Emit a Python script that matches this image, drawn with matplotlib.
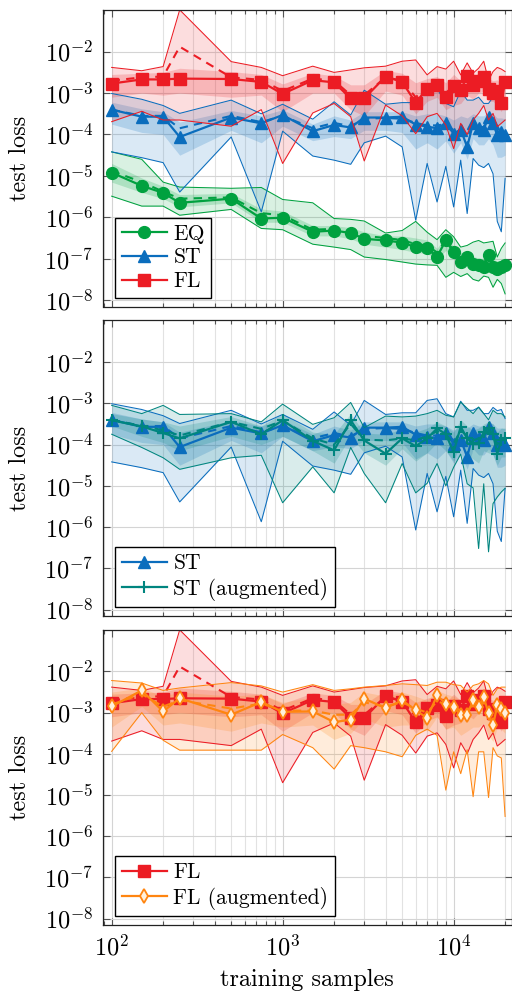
import numpy as np
import matplotlib
matplotlib.use('Agg')
import matplotlib.pyplot as plt
from matplotlib.ticker import FixedLocator, FixedFormatter, NullLocator, LogLocator, NullFormatter

plt.rcParams['font.family'] = 'serif'
plt.rcParams['font.serif'] = ['cmr10']
plt.rcParams['mathtext.fontset'] = 'cm'
plt.rcParams['axes.unicode_minus'] = False

# training samples
x = [100, 150, 200, 250, 500, 750, 1000, 1500, 2000, 2500, 3000, 4000, 5000, 6000,
     7000, 8000, 9000, 10000, 11000, 12000, 13000, 14000, 15000, 16000, 17000, 18000,
     19000, 20000]

# all loss values given as log10(test loss)
# EQ
eq_med = [-4.92, -5.24, -5.41, -5.65, -5.55, -6.03, -6.01, -6.35, -6.32, -6.38, -6.52, -6.56, -6.61, -6.72,
          -6.74, -6.95, -6.56, -6.85, -7.07, -6.95, -7.12, -7.16, -7.19, -6.91, -7.21, -7.25, -7.21, -7.16]
eq_mean = [-4.88, -5.15, -5.38, -5.55, -5.52, -5.90, -5.95, -6.30, -6.28, -6.33, -6.45, -6.50, -6.55, -6.65,
           -6.68, -6.85, -6.55, -6.80, -6.98, -6.92, -7.05, -7.10, -7.12, -6.90, -7.15, -7.15, -7.18, -7.12]
eq_max = [-4.42, -4.60, -5.15, -5.27, -5.30, -5.28, -5.57, -5.65, -6.03, -6.05, -6.09, -6.38, -6.32, -6.10,
          -6.36, -6.54, -6.30, -6.47, -6.72, -6.68, -6.60, -6.56, -6.62, -6.60, -6.58, -6.96, -6.75, -6.62]
eq_min = [-5.49, -5.73, -5.73, -5.95, -5.81, -6.27, -6.30, -6.65, -6.72, -6.78, -6.96, -7.02, -7.08, -7.13,
          -7.15, -7.16, -7.45, -7.33, -7.43, -7.36, -7.50, -7.54, -7.42, -7.45, -7.69, -7.50, -7.60, -7.85]
eq_q3 = [-4.70, -5.05, -5.25, -5.45, -5.42, -5.80, -5.85, -6.20, -6.20, -6.25, -6.35, -6.45, -6.45, -6.50,
         -6.55, -6.75, -6.45, -6.70, -6.85, -6.82, -6.95, -6.98, -7.00, -6.80, -7.02, -7.05, -7.05, -7.00]
eq_q1 = [-5.15, -5.40, -5.55, -5.75, -5.65, -6.12, -6.12, -6.45, -6.45, -6.52, -6.65, -6.72, -6.78, -6.85,
         -6.88, -7.02, -6.80, -7.00, -7.18, -7.10, -7.25, -7.30, -7.30, -7.10, -7.35, -7.38, -7.35, -7.35]

# ST
st_med = [-3.40, -3.57, -3.57, -4.06, -3.59, -3.73, -3.53, -3.92, -3.77, -3.83, -3.59, -3.59, -3.57, -3.76,
          -3.81, -3.85, -3.73, -3.98, -3.88, -4.30, -3.73, -3.85, -3.88, -3.57, -3.73, -4.02, -3.95, -4.02]
st_mean = [-3.40, -3.55, -3.55, -3.85, -3.55, -3.70, -3.55, -3.85, -3.72, -3.80, -3.62, -3.60, -3.62, -3.72,
           -3.78, -3.78, -3.75, -3.90, -3.85, -4.05, -3.78, -3.82, -3.82, -3.68, -3.75, -3.92, -3.92, -3.95]
st_max = [-3.01, -3.15, -3.30, -3.49, -3.17, -3.50, -3.27, -3.63, -3.21, -3.53, -2.93, -3.27, -3.23, -3.23,
          -2.93, -2.89, -3.25, -3.33, -2.95, -3.17, -3.17, -3.10, -3.25, -3.25, -3.10, -3.18, -3.15, -3.37]
st_min = [-4.42, -4.56, -4.68, -5.39, -4.06, -5.87, -3.92, -4.52, -4.62, -4.72, -4.20, -4.04, -4.30, -6.07,
          -4.70, -5.63, -4.77, -5.75, -4.62, -5.91, -4.58, -4.74, -4.80, -4.70, -4.95, -6.10, -6.35, -5.06]
st_q3 = [-3.22, -3.38, -3.45, -3.70, -3.42, -3.55, -3.40, -3.75, -3.55, -3.65, -3.45, -3.45, -3.45, -3.55,
         -3.50, -3.50, -3.55, -3.65, -3.55, -3.60, -3.50, -3.55, -3.55, -3.45, -3.50, -3.60, -3.60, -3.62]
st_q1 = [-3.75, -3.95, -4.00, -4.50, -3.90, -4.20, -3.80, -4.15, -4.05, -4.10, -3.90, -3.90, -3.95, -4.35,
         -4.20, -4.35, -4.15, -4.45, -4.20, -4.60, -4.10, -4.25, -4.25, -4.10, -4.25, -4.55, -4.55, -4.50]

# FL
fl_med = [-2.77, -2.67, -2.67, -2.65, -2.66, -2.73, -3.02, -2.69, -2.74, -3.13, -3.13, -2.60, -2.73, -3.23,
          -2.89, -2.81, -3.09, -2.83, -2.93, -2.59, -2.80, -2.70, -2.60, -2.90, -3.00, -2.96, -3.23, -2.73]
fl_mean = [-2.70, -2.62, -2.60, -1.88, -2.62, -2.68, -2.95, -2.65, -2.70, -3.05, -3.05, -2.62, -2.70, -3.10,
           -2.85, -2.78, -3.00, -2.82, -2.88, -2.65, -2.78, -2.70, -2.65, -2.85, -2.90, -2.92, -3.10, -2.75]
fl_max = [-2.38, -2.46, -2.36, -0.99, -2.24, -2.38, -2.58, -2.35, -2.50, -2.44, -2.39, -2.35, -2.23, -2.20,
          -2.56, -2.36, -2.42, -2.23, -2.56, -2.27, -2.52, -2.40, -2.23, -2.70, -2.48, -2.38, -2.42, -2.48]
fl_min = [-3.69, -3.44, -3.65, -3.65, -3.80, -3.40, -4.70, -3.48, -3.25, -3.57, -4.64, -3.29, -3.55, -3.98,
          -3.57, -3.49, -3.77, -4.34, -3.73, -4.00, -3.65, -3.49, -3.30, -3.65, -3.49, -3.81, -3.73, -3.65]
fl_q3 = [-2.55, -2.52, -2.50, -2.40, -2.48, -2.55, -2.78, -2.52, -2.58, -2.80, -2.80, -2.45, -2.52, -2.75,
         -2.65, -2.60, -2.75, -2.55, -2.70, -2.45, -2.60, -2.52, -2.45, -2.65, -2.70, -2.68, -2.80, -2.58]
fl_q1 = [-3.10, -3.00, -3.05, -3.00, -3.10, -3.05, -3.45, -3.00, -3.00, -3.40, -3.55, -2.95, -3.05, -3.50,
         -3.20, -3.10, -3.40, -3.30, -3.25, -3.05, -3.15, -3.00, -2.95, -3.20, -3.20, -3.30, -3.45, -3.15]

# ST (augmented)
sta_med = [-3.41, -3.56, -3.72, -3.85, -3.45, -3.75, -3.41, -3.91, -4.14, -3.41, -3.90, -4.22, -3.85, -4.04,
           -3.85, -3.61, -3.75, -4.18, -3.57, -3.85, -3.98, -3.95, -3.70, -3.61, -3.75, -4.22, -3.90, -3.85]
sta_mean = [-3.40, -3.55, -3.65, -3.78, -3.45, -3.62, -3.42, -3.85, -4.00, -3.50, -3.88, -3.90, -3.85, -3.90,
            -3.80, -3.68, -3.75, -3.98, -3.65, -3.80, -3.90, -3.85, -3.75, -3.70, -3.75, -4.00, -3.85, -3.85]
sta_max = [-3.05, -3.25, -3.05, -3.27, -3.25, -3.45, -3.02, -3.51, -3.35, -2.98, -3.59, -3.31, -3.33, -3.31,
           -3.25, -3.17, -3.29, -3.33, -2.97, -3.12, -3.25, -3.09, -3.25, -3.40, -3.17, -3.25, -3.25, -3.33]
sta_min = [-3.75, -4.07, -4.32, -4.60, -4.32, -4.26, -5.41, -4.54, -5.17, -4.07, -4.70, -5.41, -4.46, -5.17,
           -4.94, -4.46, -5.00, -4.55, -4.23, -4.95, -5.05, -6.52, -4.95, -6.60, -5.43, -5.27, -5.15, -5.06]
sta_q3 = [-3.25, -3.38, -3.45, -3.55, -3.32, -3.55, -3.25, -3.70, -3.75, -3.25, -3.72, -3.75, -3.62, -3.70,
          -3.60, -3.45, -3.55, -3.70, -3.40, -3.55, -3.65, -3.60, -3.50, -3.45, -3.50, -3.70, -3.60, -3.60]
sta_q1 = [-3.55, -3.80, -3.95, -4.15, -3.80, -4.00, -3.80, -4.15, -4.45, -3.80, -4.20, -4.50, -4.10, -4.40,
          -4.20, -3.95, -4.15, -4.40, -3.95, -4.25, -4.35, -4.45, -4.15, -4.20, -4.25, -4.50, -4.30, -4.30]

# FL (augmented)
fla_med = [-2.85, -2.46, -2.97, -2.65, -3.05, -2.74, -2.98, -2.97, -3.23, -3.17, -2.66, -2.89, -2.70, -2.94,
           -3.13, -2.58, -2.78, -2.86, -3.05, -3.05, -2.70, -2.86, -2.62, -3.02, -3.31, -2.82, -2.90, -3.00]
fla_mean = [-2.80, -2.55, -2.85, -2.70, -2.90, -2.78, -2.95, -2.95, -3.05, -3.05, -2.75, -2.85, -2.75, -2.90,
            -3.00, -2.72, -2.80, -2.85, -2.95, -2.95, -2.80, -2.85, -2.75, -2.95, -3.10, -2.85, -2.90, -2.95]
fla_max = [-2.22, -2.28, -2.46, -2.40, -2.27, -2.35, -2.50, -2.32, -2.46, -2.42, -2.38, -2.34, -2.30, -2.32,
           -2.34, -2.26, -2.26, -2.32, -2.34, -2.50, -2.34, -2.30, -2.22, -2.30, -2.58, -2.42, -2.38, -2.38]
fla_min = [-3.94, -3.00, -3.67, -3.91, -3.91, -3.91, -3.53, -3.85, -4.37, -3.80, -3.85, -3.95, -4.07, -3.55,
           -3.40, -3.55, -4.88, -3.95, -4.48, -3.90, -5.04, -3.95, -3.95, -5.06, -3.85, -4.05, -4.10, -5.52]
fla_q3 = [-2.50, -2.40, -2.60, -2.50, -2.60, -2.55, -2.75, -2.62, -2.80, -2.75, -2.50, -2.60, -2.50, -2.60,
          -2.70, -2.45, -2.55, -2.60, -2.70, -2.70, -2.50, -2.60, -2.45, -2.70, -2.90, -2.60, -2.65, -2.65]
fla_q1 = [-3.35, -2.85, -3.30, -3.25, -3.45, -3.25, -3.35, -3.30, -3.65, -3.50, -3.15, -3.35, -3.30, -3.30,
          -3.45, -3.10, -3.40, -3.35, -3.55, -3.45, -3.35, -3.35, -3.25, -3.55, -3.70, -3.35, -3.40, -3.50]

GREEN = '#00a13f'
BLUE = '#0a6dbd'
RED = '#ec1c24'
TEAL = '#00857f'
ORANGE = '#ff8510'


def draw(ax, med, mean, lo, hi, q1, q3, color, marker, label, ms, mfc=None, mew=1.0):
    p = lambda a: 10.0 ** np.array(a)
    ax.fill_between(x, p(lo), p(hi), color=color, alpha=0.15, lw=0)
    ax.fill_between(x, p(q1), p(q3), color=color, alpha=0.2, lw=0)
    ax.plot(x, p(lo), color=color, lw=0.75)
    ax.plot(x, p(hi), color=color, lw=0.75)
    ax.plot(x, p(mean), color=color, lw=1.5, ls=(0, (4, 3)))
    ax.plot(x, p(med), color=color, lw=1.6, marker=marker, ms=ms,
            mfc=mfc if mfc else color, mec=color, mew=mew, label=label)


fig = plt.figure(figsize=(5.12, 9.92), dpi=100)
left = 103 / 512
width = (511.5 - 103) / 512
panels = [(10, 306.5), (320.5, 616), (630, 925)]
axes = []
for top, bot in panels:
    axes.append(fig.add_axes([left, 1 - bot / 992, width, (bot - top) / 992]))

draw(axes[0], eq_med, eq_mean, eq_min, eq_max, eq_q1, eq_q3, GREEN, 'o', 'EQ', 8.5)
draw(axes[0], st_med, st_mean, st_min, st_max, st_q1, st_q3, BLUE, '^', 'ST', 8.5)
draw(axes[0], fl_med, fl_mean, fl_min, fl_max, fl_q1, fl_q3, RED, 's', 'FL', 9)

draw(axes[1], st_med, st_mean, st_min, st_max, st_q1, st_q3, BLUE, '^', 'ST', 8.5)
draw(axes[1], sta_med, sta_mean, sta_min, sta_max, sta_q1, sta_q3, TEAL, '+', 'ST (augmented)', 8, mew=1.5)

draw(axes[2], fl_med, fl_mean, fl_min, fl_max, fl_q1, fl_q3, RED, 's', 'FL', 9)
draw(axes[2], fla_med, fla_mean, fla_min, fla_max, fla_q1, fla_q3, ORANGE, 'd', 'FL (augmented)', 7.5,
     mfc='#fff0dc', mew=1.3)

yt = [1e-8, 1e-7, 1e-6, 1e-5, 1e-4, 1e-3, 1e-2]
ytl = [r'$10^{-%d}$' % k for k in range(8, 1, -1)]
for i, ax in enumerate(axes):
    ax.set_xscale('log')
    ax.set_yscale('log')
    ax.set_xlim(89, 21800)
    ax.set_ylim(10 ** -8.155, 10 ** -0.993)
    ax.yaxis.set_major_locator(FixedLocator(yt))
    ax.yaxis.set_major_formatter(FixedFormatter(ytl))
    ax.yaxis.set_minor_locator(NullLocator())
    ax.xaxis.set_major_locator(FixedLocator([1e2, 1e3, 1e4]))
    ax.xaxis.set_minor_locator(LogLocator(base=10, subs=np.arange(2, 10), numticks=20))
    ax.xaxis.set_minor_formatter(NullFormatter())
    if i == 2:
        ax.xaxis.set_major_formatter(FixedFormatter([r'$10^{2}$', r'$10^{3}$', r'$10^{4}$']))
        ax.set_xlabel('training samples', fontsize=17.5, labelpad=6)
    else:
        ax.xaxis.set_major_formatter(NullFormatter())
    ax.set_axisbelow(True)
    ax.grid(which='major', color='#d4d4d4', lw=0.8)
    ax.grid(which='minor', axis='x', color='#e2e2e2', lw=0.8)
    ax.tick_params(which='both', direction='in', top=True, right=True, color='#555555', labelsize=17.5, pad=7)
    ax.tick_params(which='major', length=5, width=0.8)
    ax.tick_params(which='minor', length=3, width=0.8)
    for s in ax.spines.values():
        s.set_color('#222222')
        s.set_linewidth(0.9)
    ax.set_ylabel('test loss', fontsize=17.5)
    ax.yaxis.set_label_coords(-0.176, 0.5)
    ax.legend(loc='lower left', bbox_to_anchor=(0.03, 0.03), borderaxespad=0, fancybox=False,
              edgecolor='black', framealpha=1, handlelength=2.1, fontsize=15.5,
              borderpad=0.3, labelspacing=0.2, handletextpad=0.3)

fig.savefig('out.png', dpi=100)
